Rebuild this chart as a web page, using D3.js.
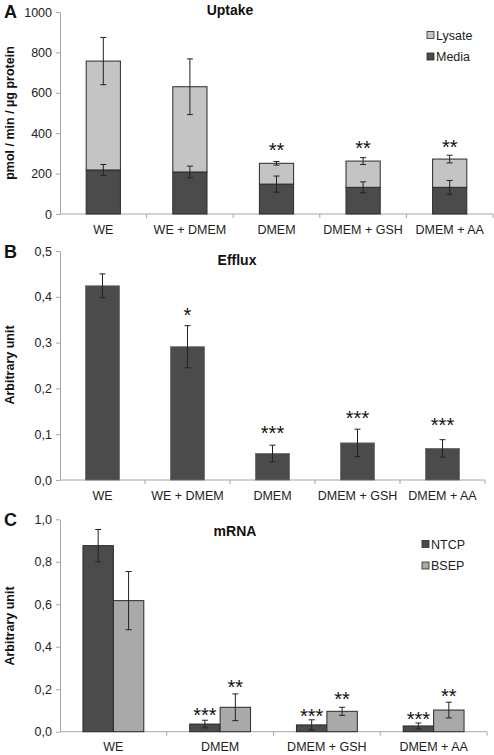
<!DOCTYPE html>
<html><head><meta charset="utf-8">
<script src="https://cdn.jsdelivr.net/npm/d3@7"></script>
<style>body{margin:0;background:#fff} svg{display:block}</style>
</head><body><svg id="chart" width="494" height="755"></svg>
<script>
// ---------- DATA ----------
const uptakeCats = ["WE", "WE + DMEM", "DMEM", "DMEM + GSH", "DMEM + AA"];
const uptakeMedia = [218, 208, 148, 132, 132];
const uptakeMediaErr = [27, 29, 40, 27, 34];
const uptakeLysate = [539, 422, 103, 130, 140];
const uptakeTotalErr = [117, 138, 9, 17, 19];
const uptakeStars = ["", "", "**", "**", "**"];
const uptakeStarPos = [0, 0, 337, 347, 353];
const uptakeTicks = [0, 200, 400, 600, 800, 1000];

const effluxCats = ["WE", "WE + DMEM", "DMEM", "DMEM + GSH", "DMEM + AA"];
const effluxVals = [0.424, 0.291, 0.058, 0.081, 0.069];
const effluxErr = [0.026, 0.046, 0.018, 0.030, 0.019];
const effluxStars = ["", "*", "***", "***", "***"];
const effluxStarPos = [0, 0.371, 0.112, 0.146, 0.131];
const effluxTicks = [0, 0.1, 0.2, 0.3, 0.4, 0.5];

const mrnaCats = ["WE", "DMEM", "DMEM + GSH", "DMEM + AA"];
const ntcpVals = [0.876, 0.036, 0.032, 0.027];
const ntcpErr = [0.076, 0.018, 0.024, 0.014];
const bsepVals = [0.617, 0.115, 0.096, 0.102];
const bsepErr = [0.137, 0.063, 0.019, 0.037];
const ntcpStars = ["", "***", "***", "***"];
const ntcpStarPos = [0, 0.102, 0.097, 0.083];
const bsepStars = ["", "**", "**", "**"];
const bsepStarPos = [0, 0.231, 0.177, 0.188];
const mrnaTicks = [0, 0.2, 0.4, 0.6, 0.8, 1.0];

// ---------- STYLE ----------
const FONT = "'Liberation Sans', Arial, Helvetica, sans-serif";
const DARK = "#4b4b4b", LIGHT = "#c4c4c4", MID = "#a9a9a9";
const OUTLINE = "#2a2a2a", AXIS = "#a6a6a6", TXT = "#222";
const svg = d3.select("#chart").style("font-family", FONT);
const comma1 = v => d3.format(".1f")(v).replace(".", ",");

function frame(g, x, y, ticks, fmt, cats) {
  const [x0, x1] = x.range();
  const y0 = y.range()[0];
  const ax = g.append("g").attr("transform", `translate(${x0},0)`)
    .call(d3.axisLeft(y).tickValues(ticks).tickSize(4).tickSizeOuter(0).tickPadding(4).tickFormat(fmt));
  ax.selectAll("path,line").attr("stroke", AXIS);
  ax.selectAll("text").attr("font-size", 12.5).attr("fill", TXT).attr("font-family", FONT);
  g.append("line").attr("x1", x0).attr("x2", x1).attr("y1", y0).attr("y2", y0).attr("stroke", AXIS);
  const bounds = cats.map(c => x(c)).concat([x1]);
  g.selectAll(".bt").data(bounds.slice(1)).join("line")
    .attr("x1", d => d).attr("x2", d => d).attr("y1", y0).attr("y2", y0 + 4).attr("stroke", AXIS);
  g.selectAll(".xl").data(cats).join("text")
    .attr("x", c => x(c) + x.bandwidth() / 2).attr("y", y0 + 19.5)
    .attr("text-anchor", "middle").attr("font-size", 12.5).attr("fill", TXT).text(c => c);
}

function errBar(g, cx, yTop, yBot) {
  g.append("line").attr("x1", cx).attr("x2", cx).attr("y1", yTop).attr("y2", yBot).attr("stroke", "#222").attr("stroke-width", 1);
  [yTop, yBot].forEach(yy => g.append("line").attr("x1", cx - 3).attr("x2", cx + 3).attr("y1", yy).attr("y2", yy).attr("stroke", "#222").attr("stroke-width", 1));
}
function stars(g, cx, yc, s) {
  if (!s) return;
  g.append("text").attr("x", cx).attr("y", yc + 11.5).attr("text-anchor", "middle")
    .attr("font-size", 20).attr("fill", "#111").text(s);
}
function labelPanel(letter, ly, title, tx, ty, ytitle, ytx, yty) {
  svg.append("text").attr("x", 4).attr("y", ly).attr("font-size", 18).attr("font-weight", "bold").attr("fill", "#111").text(letter);
  svg.append("text").attr("x", tx).attr("y", ty).attr("text-anchor", "middle").attr("font-size", 14).attr("font-weight", "bold").attr("fill", "#111").text(title);
  svg.append("text").attr("transform", `translate(${ytx},${yty}) rotate(-90)`).attr("text-anchor", "middle")
    .attr("font-size", 12.5).attr("font-weight", "bold").attr("fill", "#111").text(ytitle);
}
function legend(items, sx, y0, dy) {
  items.forEach((it, i) => {
    const yy = y0 + i * dy;
    svg.append("rect").attr("x", sx).attr("y", yy - 3.5).attr("width", 7).attr("height", 7).attr("fill", it[1]).attr("stroke", OUTLINE).attr("stroke-width", 0.8);
    svg.append("text").attr("x", sx + 9).attr("y", yy + 4.5).attr("font-size", 12.5).attr("fill", TXT).text(it[0]);
  });
}

// ---------- PANEL A ----------
{
  const g = svg.append("g");
  const x = d3.scaleBand().domain(uptakeCats).range([60, 493]).padding(0);
  const y = d3.scaleLinear().domain([0, 1000]).range([214, 12]);
  frame(g, x, y, uptakeTicks, d3.format("d"), uptakeCats);
  const rows = uptakeCats.map((c, i) => ({ c, media: uptakeMedia[i], lysate: uptakeLysate[i] }));
  const stack = d3.stack().keys(["media", "lysate"])(rows);
  const bw = x.bandwidth() * 0.395;
  const colors = { media: DARK, lysate: LIGHT };
  stack.forEach(layer => {
    g.selectAll(null).data(layer).join("rect")
      .attr("x", d => x(d.data.c) + (x.bandwidth() - bw) / 2).attr("width", bw)
      .attr("y", d => y(d[1])).attr("height", d => y(d[0]) - y(d[1]))
      .attr("fill", colors[layer.key]).attr("stroke", OUTLINE).attr("stroke-width", 1);
  });
  uptakeCats.forEach((c, i) => {
    const cx = x(c) + x.bandwidth() / 2;
    const tot = uptakeMedia[i] + uptakeLysate[i];
    errBar(g, cx, y(tot + uptakeTotalErr[i]), y(tot - uptakeTotalErr[i]));
    errBar(g, cx, y(uptakeMedia[i] + uptakeMediaErr[i]), y(uptakeMedia[i] - uptakeMediaErr[i]));
    stars(g, cx, y(uptakeStarPos[i]), uptakeStars[i]);
  });
  labelPanel("A", 18, "Uptake", 230, 15, "pmol / min / µg protein", 14, 113);
  legend([["Lysate", LIGHT], ["Media", DARK]], 427, 35, 21.5);
}

// ---------- PANEL B ----------
{
  const g = svg.append("g");
  const x = d3.scaleBand().domain(effluxCats).range([60, 485]).padding(0);
  const y = d3.scaleLinear().domain([0, 0.5]).range([480, 251]);
  frame(g, x, y, effluxTicks, comma1, effluxCats);
  const bw = x.bandwidth() * 0.4;
  g.selectAll(null).data(effluxCats).join("rect")
    .attr("x", c => x(c) + (x.bandwidth() - bw) / 2).attr("width", bw)
    .attr("y", (c, i) => y(effluxVals[i])).attr("height", (c, i) => y(0) - y(effluxVals[i]))
    .attr("fill", DARK).attr("stroke", "#6a6a6a").attr("stroke-width", 0.8);
  effluxCats.forEach((c, i) => {
    const cx = x(c) + x.bandwidth() / 2;
    errBar(g, cx, y(effluxVals[i] + effluxErr[i]), y(effluxVals[i] - effluxErr[i]));
    stars(g, cx, y(effluxStarPos[i]), effluxStars[i]);
  });
  labelPanel("B", 258, "Efflux", 237, 265, "Arbitrary unit", 14, 365);
}

// ---------- PANEL C ----------
{
  const g = svg.append("g");
  const x = d3.scaleBand().domain(mrnaCats).range([60, 487]).padding(0);
  const y = d3.scaleLinear().domain([0, 1]).range([731.7, 519.3]);
  frame(g, x, y, mrnaTicks, comma1, mrnaCats);
  const sub = d3.scaleBand().domain(["NTCP", "BSEP"]).range([0, x.bandwidth() * 0.57]);
  const off = x.bandwidth() * 0.43 / 2;
  const series = [["NTCP", ntcpVals, ntcpErr, ntcpStars, ntcpStarPos, DARK], ["BSEP", bsepVals, bsepErr, bsepStars, bsepStarPos, MID]];
  series.forEach(([key, vals, errs, st, sp, col]) => {
    g.selectAll(null).data(mrnaCats).join("rect")
      .attr("x", c => x(c) + off + sub(key)).attr("width", sub.bandwidth())
      .attr("y", (c, i) => y(vals[i])).attr("height", (c, i) => y(0) - y(vals[i]))
      .attr("fill", col).attr("stroke", OUTLINE).attr("stroke-width", 1);
    mrnaCats.forEach((c, i) => {
      const cx = x(c) + off + sub(key) + sub.bandwidth() / 2;
      errBar(g, cx, y(vals[i] + errs[i]), y(vals[i] - errs[i]));
      stars(g, cx, y(sp[i]), st[i]);
    });
  });
  labelPanel("C", 526, "mRNA", 235, 536, "Arbitrary unit", 14, 626);
  legend([["NTCP", DARK], ["BSEP", MID]], 422, 544, 21.5);
}
</script>
</body></html>
